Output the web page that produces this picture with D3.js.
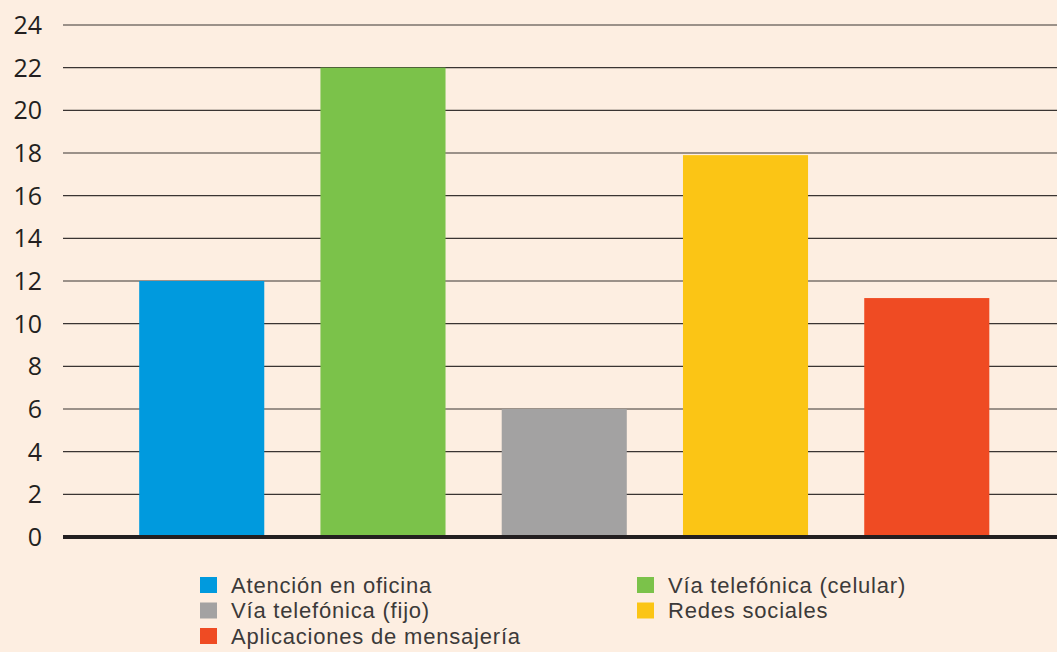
<!DOCTYPE html>
<html>
<head>
<meta charset="utf-8">
<script src="https://cdn.jsdelivr.net/npm/d3@7"></script>
<style>
  body { margin: 0; background: #fdeee1; }
  text { font-family: "Open Sans", "Noto Sans", sans-serif; }
  .legend text { font-family: "Liberation Sans", Arial, sans-serif; letter-spacing: 0.8px; }
</style>
</head>
<body>
<div id="chart"></div>
<script>
  var categories = ["Atención en oficina", "Vía telefónica (celular)", "Vía telefónica (fijo)", "Redes sociales", "Aplicaciones de mensajería"];
  var values = [12, 22, 6, 17.9, 11.2];
  var colors = ["#009ade", "#7bc24a", "#a3a2a2", "#fbc515", "#ef4b23"];
  var yTicks = [0, 2, 4, 6, 8, 10, 12, 14, 16, 18, 20, 22, 24];
  // legend order as printed (two columns, row by row)
  var legendOrder = [0, 1, 2, 3, 4];

  var w = 1057, h = 652;

  var svg = d3.select("#chart").append("svg")
      .attr("width", w)
      .attr("height", h);

  svg.append("rect").attr("width", w).attr("height", h).attr("fill", "#fdeee1");

  var y = d3.scaleLinear().domain([0, 24]).range([537, 25]);
  var x = d3.scaleBand().domain(categories).range([83, 1045.5]).padding(0.31);

  // grid lines
  svg.append("g").selectAll("line").data(yTicks.filter(function(d) { return d > 0; }))
    .enter().append("line")
    .attr("x1", 63).attr("x2", w)
    .attr("y1", function(d) { return y(d); })
    .attr("y2", function(d) { return y(d); })
    .attr("stroke", "#3a3432")
    .attr("stroke-width", 1.2);

  // tick labels
  svg.append("g").selectAll("text").data(yTicks)
    .enter().append("text")
    .attr("x", 42)
    .attr("y", function(d) { return y(d); })
    .attr("dy", "0.36em")
    .attr("text-anchor", "end")
    .attr("font-size", 25)
    .attr("fill", "#231f20")
    .text(function(d) { return d; });

  // bars
  svg.append("g").selectAll("rect").data(values)
    .enter().append("rect")
    .attr("x", function(d, i) { return x(categories[i]); })
    .attr("width", x.bandwidth())
    .attr("y", function(d) { return y(d); })
    .attr("height", function(d) { return y(0) - y(d); })
    .attr("fill", function(d, i) { return colors[i]; });

  // baseline
  svg.append("line")
    .attr("x1", 63).attr("x2", w)
    .attr("y1", y(0)).attr("y2", y(0))
    .attr("stroke", "#231f20")
    .attr("stroke-width", 4);

  // legend
  var legend = svg.append("g").attr("class", "legend")
    .selectAll("g").data(legendOrder)
    .enter().append("g")
    .attr("transform", function(d, i) {
      var col = i % 2, row = Math.floor(i / 2);
      return "translate(" + (col === 0 ? 200 : 637) + "," + (577 + row * 25.5) + ")";
    });

  legend.append("rect")
    .attr("width", 17).attr("height", 16)
    .attr("fill", function(d) { return colors[d]; });

  legend.append("text")
    .attr("x", 31)
    .attr("y", 8)
    .attr("dy", "0.36em")
    .attr("font-size", 22)
    .attr("fill", "#3c3a39")
    .text(function(d) { return categories[d]; });
</script>
</body>
</html>
